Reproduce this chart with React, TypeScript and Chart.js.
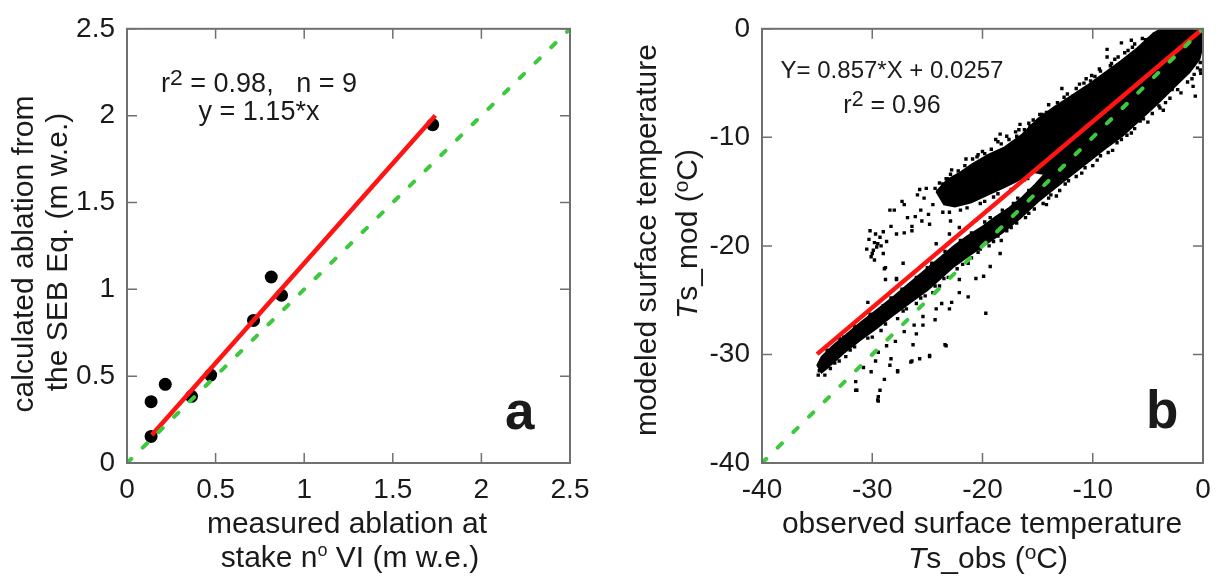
import React, { useEffect, useRef } from 'react';
import { Chart, registerables } from 'chart.js';

Chart.register(...registerables);

const FONT = '"Liberation Sans", Arial, Helvetica, sans-serif';
const TEXT = '#1a1a1a';
const FRAME = '#707070';
const RED = '#ff1414';
const GREEN = '#3ec83e';

// ---------------- panel a ----------------
const ablationTicks = [0, 0.5, 1, 1.5, 2, 2.5];
const measuredAblation = [0.136, 0.136, 0.216, 0.364, 0.472, 0.714, 0.814, 0.872, 1.725];
const calculatedAblation = [0.153, 0.353, 0.453, 0.384, 0.506, 0.821, 1.071, 0.966, 1.948];
const fitARange = [0.14, 1.74];
const fitASlope = 1.15;
const oneToOneA = [0, 2.5];

// ---------------- panel b ----------------
const tempTicks = [-40, -30, -20, -10, 0];
const fitBRange = [-35, 0];
const fitBSlope = 0.857;
const fitBIntercept = 0.0257;
const oneToOneB = [-40, 0];

// outline of the dense (saturated) part of the point cloud
const denseObs = [
  -24.2, -23.2, -22.0, -21.0, -19.5, -18.0, -16.5, -15.0, -13.5, -12.0, -10.5, -9.0, -7.5, -6.0, -4.5, -3.8,
  0, 0, -0.3,
  -1.2, -2.5, -4.2, -5.8, -7.3, -8.8, -10.3, -11.8, -13.3, -14.8, -16.6, -18.2, -19.6, -21.2, -22.7, -24.0,
  -25.0, -26.5, -28.1, -29.6, -31.1, -32.6, -34.0, -34.6,
  -35.0, -34.6,
  -33.6, -32.4, -31.0, -29.6, -28.0, -26.6, -25.2, -24.0, -22.6, -21.4, -20.0, -18.8, -17.6, -16.4, -15.2, -14.4,
  -15.5, -16.8, -18.0, -19.5, -21.0, -22.5, -23.5,
  -24.2,
];
const denseMod = [
  -15.0, -13.9, -13.2, -12.5, -11.6, -10.9, -9.8, -8.3, -7.2, -6.2, -5.2, -4.1, -3.0, -1.8, -0.4, 0,
  0, -1.5, -2.8,
  -4.0, -5.3, -7.0, -8.5, -9.9, -11.0, -12.2, -13.4, -14.6, -15.8, -17.5, -18.8, -19.8, -20.9, -22.0, -23.2,
  -24.1, -25.2, -26.4, -27.6, -28.7, -29.9, -31.2, -31.7,
  -31.0, -30.2,
  -29.2, -28.2, -27.0, -25.9, -24.6, -23.4, -22.2, -21.2, -20.0, -19.1, -18.2, -17.3, -16.5, -15.5, -14.3, -13.4,
  -13.2, -14.0, -14.6, -15.3, -16.0, -16.4, -16.2,
  -15.0,
];

// individual scattered points
const scatterObs = [
  -31.4, -29.45, -29.45, -29.3, -28.9, -30.1, -29.7, -28.3, -28.4, -27.7, -26.5, -25.7, -24.8, -23.3, -26.3, -25.4,
  -26.0, -26.2, -27.1, -27.9, -28.7, -29.45, -30.8, -31.5, -24.3, -24.2, -25.4, -23.7, -22.8, -23.0, -24.5, -22.1,
  -21.3, -19.7, -23.9, -22.1, -20.6, -19.9, -21.3, -19.3, -18.4, -27.2, -28.8, -27.8, -28.9, -30.4,
  -30.2, -29.8, -29.9, -29.8, -30.5, -29.3, -29.0, -28.7, -29.5, -30.0, -28.3, -27.8, -28.4, -28.0, -27.1, -26.8,
  -26.4, -26.1, -25.6, -25.5, -25.9, -25.3, -24.9, -24.8, -24.5, -24.3, -25.1, -25.7, -23.7, -23.3, -23.9, -26.4,
  -27.1, -27.3, -29.0, -22.9, -23.0, -22.1, -24.2,
  -30.3, -29.6, -30.1, -29.2, -29.7,
  -12.8, -14.2, -13.6, -13.9, -14.6, -10.6, -10.8, -10.1, -9.4, -8.7, -8.3, -7.4, -6.5, -6.4, -4.9, -5.7,
  -15.7, -16.6, -16.7, -17.8, -18.4, -18.8, -17.5, -20.5, -20.2, -19.6, -21.1, -22.0, -23.2, -23.4, -11.8, -8.7,
  -0.7, -0.9, -0.2, -4.0, -3.4, -2.8, -2.2, -1.6, -5.7, -6.0, -7.4, -8.0, -9.4, -10.1, -13.3, -14.2,
  -13.9, -18.3, -19.0, -0.25, -0.25,
  -28.8, -27.8, -23.4, -29.5, -31.5, -27.7, -24.8, -26.4,
  -22.8, -21.5, -20.0, -18.6, -17.0, -15.8, -14.0, -12.6, -11.2, -9.8, -8.0, -6.8, -5.2, -3.2,
  -1.0, -2.0, -3.6, -5.0, -6.5, -8.2, -9.6, -11.0, -12.5, -14.0, -15.8, -17.4, -19.0, -20.4, -21.8, -23.5,
  -25.6, -27.2, -28.8, -30.4, -32.0, -33.4, -34.3, -34.8,
  -33.0, -30.2, -27.3, -24.6, -22.0, -19.8, -18.2, -16.8,
  -23.0, -20.2, -18.6, -16.2,
  -23.6, -22.9, -22.2, -21.6, -20.9, -20.4, -19.8, -19.2, -18.3, -17.6, -16.9, -16.2, -15.4, -14.8, -13.2, -12.3,
  -11.5, -10.2, -9.3, -8.4, -7.7, -7.1, -6.2, -5.5, -4.4, -3.6,
  -0.5, -0.8, -1.4, -2.3, -3.0, -3.9, -4.6, -5.4, -6.2, -6.9, -7.8, -8.6, -9.3, -10.0, -10.7, -11.5,
  -12.2, -13.0, -13.8, -14.5, -15.3, -16.1, -16.9, -17.8, -18.6, -19.4, -20.2, -21.0, -22.3, -23.1, -24.3, -25.2,
  -26.0, -26.9, -27.7, -29.2, -30.0, -31.6, -32.4, -33.0, -33.8, -34.9,
  -34.1, -32.6, -31.6, -29.0, -28.3, -26.0, -25.0, -23.4, -21.0, -19.3, -17.2, -15.8,
  -23.6, -22.0, -21.4, -19.8, -19.0, -17.4, -15.9,
];
const scatterMod = [
  -33.3, -34.3, -33.9, -33.3, -32.3, -31.6, -30.6, -30.4, -31.0, -31.6, -30.7, -30.4, -30.1, -29.2, -29.1, -27.3,
  -28.1, -27.3, -27.9, -28.8, -29.2, -29.8, -31.2, -32.5, -26.8, -25.8, -26.5, -25.3, -25.2, -25.8, -24.3, -24.3,
  -24.7, -26.2, -23.7, -23.1, -23.0, -22.8, -21.6, -21.9, -20.7, -21.6, -23.1, -23.0, -22.1, -25.2,
  -18.6, -19.7, -20.4, -21.3, -20.3, -19.2, -18.7, -19.6, -19.8, -20.7, -18.2, -18.9, -16.7, -16.7, -16.2, -17.4,
  -18.2, -17.3, -16.7, -17.7, -15.3, -15.6, -17.1, -18.0, -16.2, -14.7, -14.7, -14.8, -15.3, -13.8, -14.2, -18.6,
  -18.8, -15.9, -20.7, -17.7, -18.9, -18.3, -19.8,
  -19.4, -20.1, -21.0, -20.0, -18.9,
  -5.5, -7.7, -7.5, -8.05, -7.9, -4.6, -5.0, -4.3, -3.7, -1.9, -3.2, -1.3, -1.05, -1.7, -0.96, -2.9,
  -8.96, -8.8, -9.3, -9.9, -9.7, -10.2, -11.4, -11.8, -12.3, -12.9, -13.2, -13.8, -13.8, -15.9, -6.2, -2.6,
  -6.2, -5.3, -4.1, -7.1, -6.8, -5.6, -4.4, -3.5, -8.5, -8.05, -10.2, -9.7, -11.1, -10.9, -15.4, -16.2,
  -14.5, -19.5, -19.2, -3.1, -3.8,
  -22.0, -23.1, -29.1, -34.2, -33.3, -31.5, -30.2, -30.6,
  -13.0, -12.0, -11.3, -10.4, -9.5, -8.7, -7.0, -6.3, -5.1, -4.4, -2.8, -2.0, -1.0, -0.3,
  -4.6, -5.9, -7.5, -8.6, -9.6, -11.2, -12.1, -13.3, -14.3, -15.6, -17.0, -18.3, -19.6, -20.6, -21.7, -23.0,
  -24.8, -26.0, -27.2, -28.5, -29.6, -30.8, -31.9, -31.5,
  -28.5, -26.3, -24.0, -21.6, -19.5, -17.8, -16.7, -15.6,
  -16.9, -16.1, -15.2, -13.9,
  -14.3, -13.4, -13.1, -12.6, -12.0, -11.6, -11.5, -11.1, -10.6, -10.2, -9.9, -9.3, -8.4, -7.9, -6.8, -6.0,
  -5.5, -4.8, -3.9, -3.4, -2.6, -2.2, -1.4, -0.9, -0.5, -0.1,
  -3.6, -4.2, -4.9, -5.6, -6.4, -7.3, -7.8, -8.3, -9.2, -9.8, -10.5, -11.4, -11.7, -12.6, -12.8, -13.6,
  -14.0, -14.9, -15.3, -16.1, -16.6, -17.4, -17.9, -18.6, -19.1, -20.0, -20.3, -21.1, -22.1, -22.9, -23.7, -24.6,
  -25.3, -25.8, -26.7, -27.8, -28.4, -29.3, -30.2, -30.6, -31.3, -31.9,
  -29.6, -28.4, -27.4, -25.5, -24.8, -22.9, -22.0, -20.5, -18.8, -17.4, -16.1, -14.9,
  -16.9, -16.7, -16.5, -15.9, -15.5, -14.8, -13.8,
];

type Seg = { t: string; sup?: number; rise?: number; it?: boolean };
type TextItem = {
  segs: Seg[];
  x: number;
  y: number;
  size: number;
  align?: 'left' | 'center';
  rotate?: boolean;
  bold?: boolean;
};

function drawRich(ctx: CanvasRenderingContext2D, item: TextItem) {
  const { segs, x, y, size, align = 'center', rotate = false, bold = false } = item;
  const fontFor = (s: Seg) =>
    `${s.it ? 'italic ' : ''}${bold ? 'bold ' : ''}${s.sup ? size * s.sup : size}px ${FONT}`;
  let total = 0;
  const widths = segs.map((s) => {
    ctx.font = fontFor(s);
    const w = ctx.measureText(s.t).width;
    total += w;
    return w;
  });
  ctx.save();
  ctx.translate(x, y);
  if (rotate) ctx.rotate(-Math.PI / 2);
  ctx.textBaseline = 'alphabetic';
  ctx.textAlign = 'left';
  ctx.fillStyle = TEXT;
  let cx = align === 'left' ? 0 : -total / 2;
  segs.forEach((s, i) => {
    ctx.font = fontFor(s);
    const dy = s.sup ? -size * (s.rise ?? 0.3) : 0;
    ctx.fillText(s.t, cx, dy);
    cx += widths[i];
  });
  ctx.restore();
}

function framePlugin(xTicks: number[], yTicks: number[], texts: TextItem[]) {
  return {
    id: 'frameAndText',
    afterDraw(chart: any) {
      const { ctx, chartArea: a, scales } = chart;
      ctx.save();
      ctx.strokeStyle = FRAME;
      ctx.lineWidth = 1.5;
      const tl = 10;
      ctx.beginPath();
      xTicks.forEach((v) => {
        const px = scales.x.getPixelForValue(v);
        ctx.moveTo(px, a.bottom);
        ctx.lineTo(px, a.bottom - tl);
        ctx.moveTo(px, a.top);
        ctx.lineTo(px, a.top + tl);
      });
      yTicks.forEach((v) => {
        const py = scales.y.getPixelForValue(v);
        ctx.moveTo(a.left, py);
        ctx.lineTo(a.left + tl, py);
        ctx.moveTo(a.right, py);
        ctx.lineTo(a.right - tl, py);
      });
      ctx.stroke();
      ctx.lineWidth = 2;
      ctx.strokeRect(a.left, a.top, a.right - a.left, a.bottom - a.top);
      ctx.restore();
      texts.forEach((t) => drawRich(ctx, t));
    },
  };
}

function axisOptions(min: number, max: number, ticks: number[], isX: boolean, size: number) {
  return {
    type: 'linear',
    min,
    max,
    afterFit: (s: any) => {
      if (isX) s.height = size;
      else s.width = size;
    },
    afterBuildTicks: (s: any) => {
      s.ticks = ticks.map((v) => ({ value: v }));
    },
    grid: { display: false, drawTicks: false },
    border: { display: false },
    ticks: {
      font: { family: FONT, size: 28 },
      color: TEXT,
      padding: isX ? 10 : 12,
      maxRotation: 0,
      autoSkip: false,
      callback: (v: any) => String(v),
    },
  };
}

const textsA: TextItem[] = [
  { segs: [{ t: 'calculated ablation from' }], x: 33, y: 254, size: 30, rotate: true },
  { segs: [{ t: 'the SEB Eq. (m w.e.)' }], x: 67, y: 252, size: 30, rotate: true },
  { segs: [{ t: 'measured ablation at' }], x: 347, y: 533, size: 30 },
  { segs: [{ t: 'stake n' }, { t: 'o', sup: 0.6, rise: 0.36 }, { t: ' VI (m w.e.)' }], x: 350, y: 567, size: 30 },
  { segs: [{ t: 'r' }, { t: '2', sup: 0.85, rise: 0.27 }, { t: ' = 0.98,   n = 9' }], x: 259, y: 92, size: 27 },
  { segs: [{ t: 'y = 1.15*x' }], x: 259, y: 120, size: 27 },
  { segs: [{ t: 'a' }], x: 505, y: 429, size: 53, bold: true, align: 'left' },
];

const textsB: TextItem[] = [
  { segs: [{ t: 'modeled surface temperature' }], x: 51, y: 240, size: 30, rotate: true },
  {
    segs: [{ t: 'T', it: true }, { t: 's_mod (' }, { t: 'o', sup: 0.7, rise: 0.3 }, { t: 'C)' }],
    x: 92,
    y: 234,
    size: 30,
    rotate: true,
  },
  { segs: [{ t: 'observed surface temperature' }], x: 377, y: 533, size: 30 },
  {
    segs: [{ t: 'T', it: true }, { t: 's_obs (' }, { t: 'o', sup: 0.7, rise: 0.3 }, { t: 'C)' }],
    x: 383,
    y: 568,
    size: 30,
  },
  { segs: [{ t: 'Y= 0.857*X + 0.0257' }], x: 287, y: 78, size: 24 },
  { segs: [{ t: 'r' }, { t: '2', sup: 0.85, rise: 0.27 }, { t: ' = 0.96' }], x: 287, y: 113, size: 25 },
  { segs: [{ t: 'b' }], x: 541, y: 428, size: 53, bold: true, align: 'left' },
];

export default function App() {
  const refA = useRef<HTMLCanvasElement>(null);
  const refB = useRef<HTMLCanvasElement>(null);

  useEffect(() => {
    document.body.style.margin = '0';
    const dashed = {
      borderColor: GREEN,
      borderWidth: 4,
      borderDash: [6, 16],
      borderCapStyle: 'round',
      pointRadius: 0,
      showLine: true,
      fill: false,
      tension: 0,
    };
    const solidRed = {
      borderColor: RED,
      borderWidth: 4.5,
      pointRadius: 0,
      showLine: true,
      fill: false,
      tension: 0,
    };

    const chartA = new Chart(refA.current as HTMLCanvasElement, {
      type: 'line',
      data: {
        datasets: [
          { ...dashed, label: '1:1', data: oneToOneA.map((x) => ({ x, y: x })) },
          { ...solidRed, label: 'fit', data: fitARange.map((x) => ({ x, y: fitASlope * x })) },
          {
            label: 'stakes',
            data: measuredAblation.map((x, i) => ({ x, y: calculatedAblation[i] })),
            showLine: false,
            pointRadius: 6.5,
            pointBackgroundColor: '#000',
            pointBorderWidth: 0,
            pointStyle: 'circle',
          },
        ] as any,
      },
      options: {
        responsive: false,
        animation: false,
        events: [],
        layout: { padding: { top: 21, right: 35, left: 0, bottom: 0 } },
        plugins: { legend: { display: false }, tooltip: { enabled: false } },
        scales: {
          x: axisOptions(0, 2.5, ablationTicks, true, 119),
          y: axisOptions(0, 2.5, ablationTicks, false, 127),
        } as any,
      },
      plugins: [framePlugin(ablationTicks, ablationTicks, textsA)],
    });

    const chartB = new Chart(refB.current as HTMLCanvasElement, {
      type: 'line',
      data: {
        datasets: [
          { ...dashed, label: '1:1', data: oneToOneB.map((x) => ({ x, y: x })) },
          {
            ...solidRed,
            label: 'fit',
            data: fitBRange.map((x) => ({ x, y: fitBSlope * x + fitBIntercept })),
          },
          {
            label: 'points',
            data: scatterObs.map((x, i) => ({ x, y: scatterMod[i] })),
            showLine: false,
            pointRadius: 2.4,
            pointStyle: 'rect',
            pointBackgroundColor: '#000',
            pointBorderWidth: 0,
            clip: 0,
          },
          {
            label: 'dense',
            data: denseObs.map((x, i) => ({ x, y: denseMod[i] })),
            showLine: true,
            borderColor: '#000',
            backgroundColor: '#000',
            borderWidth: 1.5,
            pointRadius: 0,
            fill: 'shape',
            tension: 0,
            clip: 0,
          },
        ] as any,
      },
      options: {
        responsive: false,
        animation: false,
        events: [],
        layout: { padding: { top: 21, right: 18, left: 0, bottom: 0 } },
        plugins: { legend: { display: false }, tooltip: { enabled: false } },
        scales: {
          x: axisOptions(-40, 0, tempTicks, true, 119),
          y: axisOptions(-40, 0, tempTicks, false, 157),
        } as any,
      },
      plugins: [framePlugin(tempTicks, tempTicks, textsB)],
    });

    return () => {
      chartA.destroy();
      chartB.destroy();
    };
  }, []);

  return (
    <div style={{ position: 'relative', width: 1221, height: 582, background: '#fff' }}>
      <canvas ref={refA} width={605} height={582} style={{ position: 'absolute', left: 0, top: 0 }} />
      <canvas ref={refB} width={616} height={582} style={{ position: 'absolute', left: 605, top: 0 }} />
    </div>
  );
}
